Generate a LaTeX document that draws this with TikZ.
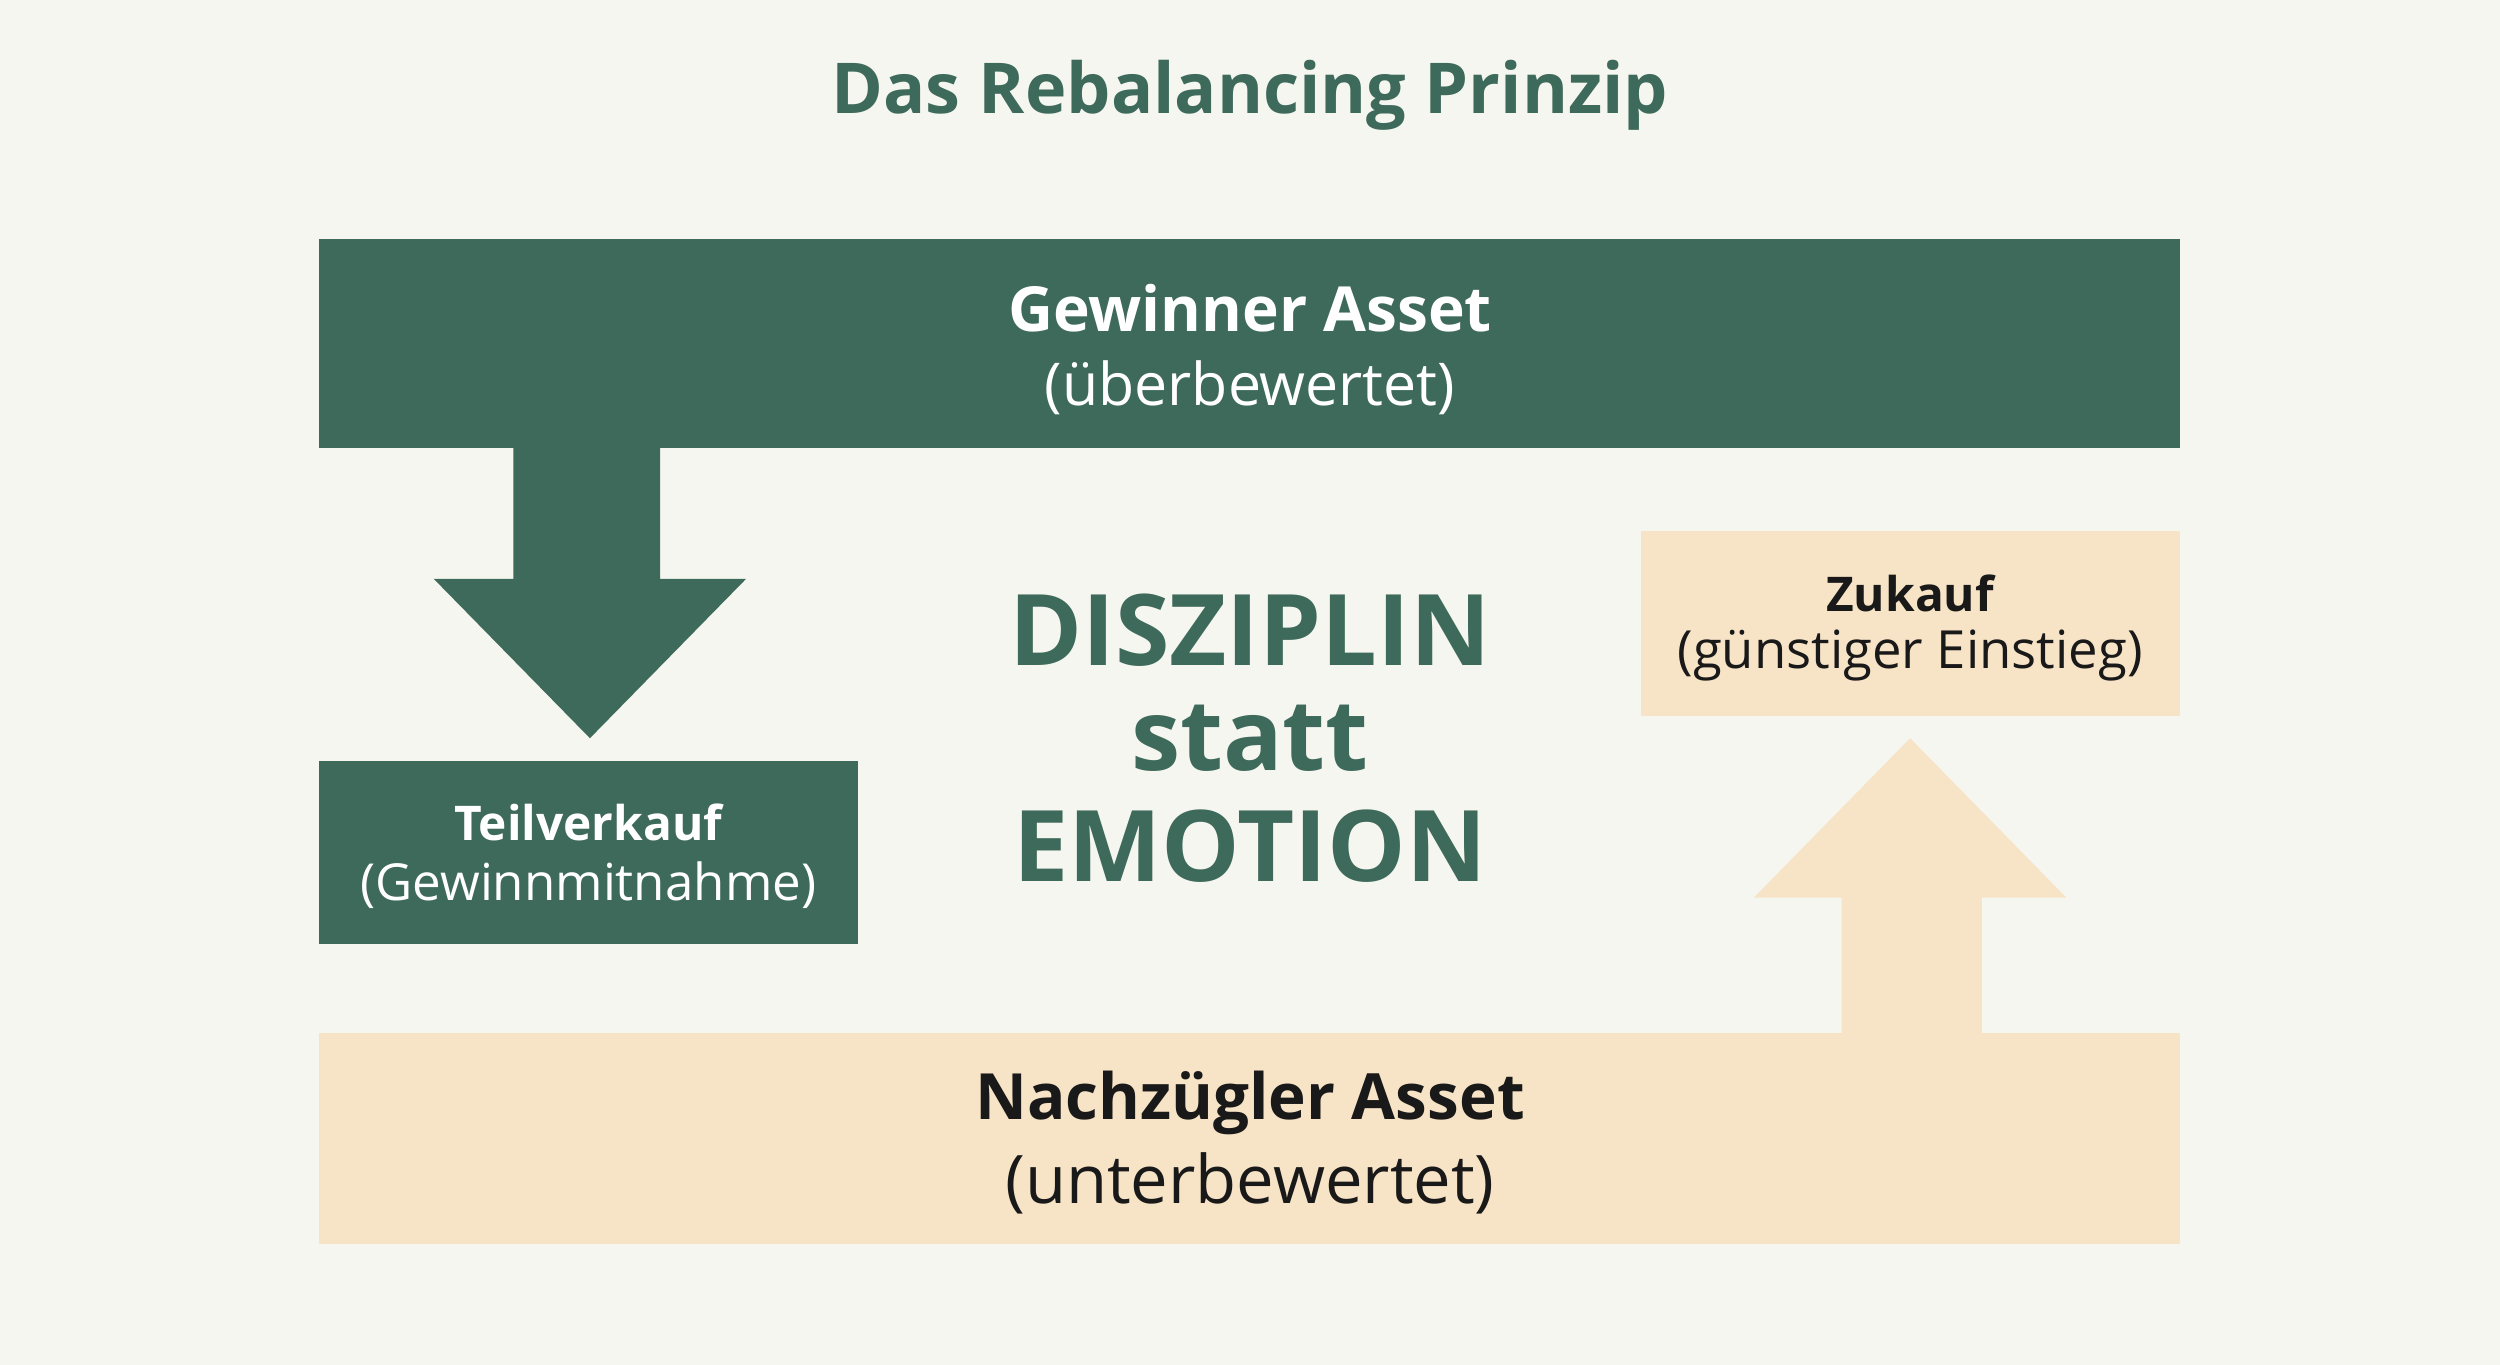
\documentclass[tikz,border=0pt]{standalone}
\usepackage{fontspec}
\setmainfont{Open Sans}
\definecolor{dg}{HTML}{3E6A5B}
\definecolor{bg}{HTML}{F6F6F1}
\definecolor{beige}{HTML}{F7E3C6}
\begin{document}
\begin{tikzpicture}[x=1pt,y=-1pt,
  txt/.style={align=center,inner sep=0pt},
  greenbox/.style={fill=dg,draw=none},
  beigebox/.style={fill=beige,draw=none}]
\fill[bg] (0,0) rectangle (1568,856);
\useasboundingbox (0,0) rectangle (1568,856);
\node[txt,text=dg,font=\fontsize{44}{52}\selectfont\bfseries] (title) at (784,60) {Das Rebalancing Prinzip};
% top bar
\fill[greenbox] (200,150) rectangle (1367,281);
\node[txt,text=white,font=\fontsize{39}{46}\selectfont\bfseries] (gew) at (784,193) {Gewinner Asset};
\node[txt,text=white,font=\fontsize{37}{44}\selectfont] (gew2) at (784,243) {(überbewertet)};
% down arrow
\fill[dg] (322,281) -- (414,281) -- (414,363) -- (468,363) -- (370,463) -- (272,363) -- (322,363) -- cycle;
% Teilverkauf
\fill[greenbox] (200,477) rectangle (538,592);
\node[txt,text=white,font=\fontsize{30}{36}\selectfont\bfseries] (tv) at (369,516) {Teilverkauf};
\node[txt,text=white,font=\fontsize{32}{38}\selectfont] (tv2) at (369,555) {(Gewinnmitnahme)};
% center
\node[txt,text=dg,font=\fontsize{62}{68}\selectfont\bfseries] (c1) at (784,395) {DISZIPLIN};
\node[txt,text=dg,font=\fontsize{62}{68}\selectfont\bfseries] (c2) at (784,463) {statt};
\node[txt,text=dg,font=\fontsize{62}{68}\selectfont\bfseries] (c3) at (784,531) {EMOTION};
% Zukauf
\fill[beigebox] (1029,333) rectangle (1367,449);
\node[txt,text=black!90,font=\fontsize{30}{36}\selectfont\bfseries] (zk) at (1198,372) {Zukauf};
\node[txt,text=black!90,font=\fontsize{33}{38}\selectfont] (zk2) at (1198,411) {(günstiger Einstieg)};
% up arrow
\fill[beige] (1155,648) -- (1243,648) -- (1243,563) -- (1296,563) -- (1198,463) -- (1100,563) -- (1155,563) -- cycle;
% bottom bar
\fill[beigebox] (200,648) rectangle (1367,780);
\node[txt,text=black!90,font=\fontsize{40}{46}\selectfont\bfseries] (na) at (784,692) {Nachzügler Asset};
\node[txt,text=black!90,font=\fontsize{42}{48}\selectfont] (na2) at (784,742) {(unterbewertet)};
\end{tikzpicture}
\end{document}
